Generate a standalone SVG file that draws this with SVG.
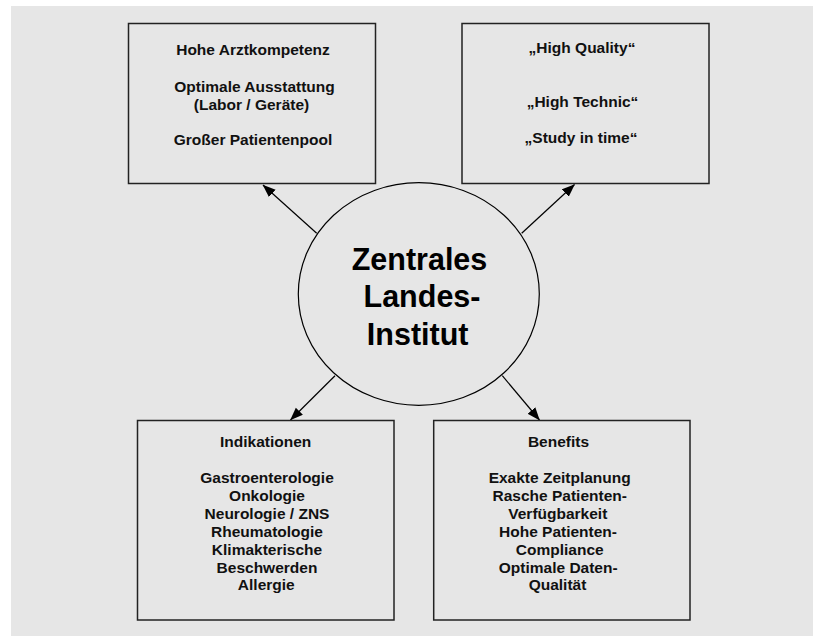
<svg xmlns="http://www.w3.org/2000/svg" width="813" height="637" viewBox="0 0 813 637">
<style>
.box{fill:none;stroke:#222;stroke-width:1.5}
.t{font-family:"Liberation Sans",Arial,sans-serif;font-weight:bold;font-size:15.5px;fill:#111;text-anchor:middle}
.big{font-family:"Liberation Sans",Arial,sans-serif;font-weight:bold;font-size:30.5px;fill:#000;text-anchor:middle}
.arrow{stroke:#000;stroke-width:1.2;fill:none;marker-end:url(#ah)}
</style>
<defs>
<marker id="ah" markerUnits="userSpaceOnUse" markerWidth="13" markerHeight="11" refX="12.5" refY="5" orient="auto">
<path d="M0,0 L13,5 L0,10 Z" fill="#000"/>
</marker>
</defs>
<rect x="11" y="6" width="802" height="630" fill="#e6e6e6"/>
<g id="connectors">
<line class="arrow" x1="316.7" y1="233.3" x2="263" y2="185"/>
<line class="arrow" x1="521.7" y1="233.3" x2="574.5" y2="184.5"/>
<line class="arrow" x1="335" y1="375.7" x2="290.5" y2="420"/>
<line class="arrow" x1="502.3" y1="375.7" x2="539.5" y2="420"/>
</g>
<g id="node-arzt">
<rect class="box" x="128.5" y="23.5" width="247" height="160"/>
<text class="t" x="253" y="55">Hohe Arztkompetenz</text>
<text class="t" x="254.5" y="91.5">Optimale Ausstattung</text>
<text class="t" x="251.5" y="109.5">(Labor / Geräte)</text>
<text class="t" x="253" y="145">Großer Patientenpool</text>
</g>
<g id="node-quality">
<rect class="box" x="462" y="23.5" width="247" height="160"/>
<text class="t" x="582" y="53">„High Quality“</text>
<text class="t" x="582.5" y="106.5">„High Technic“</text>
<text class="t" x="581" y="143">„Study in time“</text>
</g>
<g id="node-center">
<ellipse cx="418.8" cy="294" rx="120.5" ry="111.3" fill="none" stroke="#000" stroke-width="1.2"/>
<text class="big" x="419.5" y="270">Zentrales</text>
<text class="big" x="422" y="306.5">Landes-</text>
<text class="big" x="417.7" y="345">Institut</text>
</g>
<g id="node-indikationen">
<rect class="box" x="137.5" y="420.5" width="256.5" height="199.5"/>
<text class="t" x="265.7" y="446.5">Indikationen</text>
<text class="t" x="267" y="482.5">Gastroenterologie</text>
<text class="t" x="267" y="500.5">Onkologie</text>
<text class="t" x="267" y="518.5">Neurologie / ZNS</text>
<text class="t" x="267" y="536.5">Rheumatologie</text>
<text class="t" x="267" y="554.5">Klimakterische</text>
<text class="t" x="267" y="572.5">Beschwerden</text>
<text class="t" x="266.3" y="590">Allergie</text>
</g>
<g id="node-benefits">
<rect class="box" x="433.7" y="420.5" width="256.3" height="199.5"/>
<text class="t" x="558.5" y="446.5">Benefits</text>
<text class="t" x="559.7" y="482.5">Exakte Zeitplanung</text>
<text class="t" x="559.7" y="500.5">Rasche Patienten-</text>
<text class="t" x="557.8" y="518.5">Verfügbarkeit</text>
<text class="t" x="558" y="536.5">Hohe Patienten-</text>
<text class="t" x="559.7" y="554.5">Compliance</text>
<text class="t" x="558.2" y="572.5">Optimale Daten-</text>
<text class="t" x="557.5" y="590">Qualität</text>
</g>
</svg>
